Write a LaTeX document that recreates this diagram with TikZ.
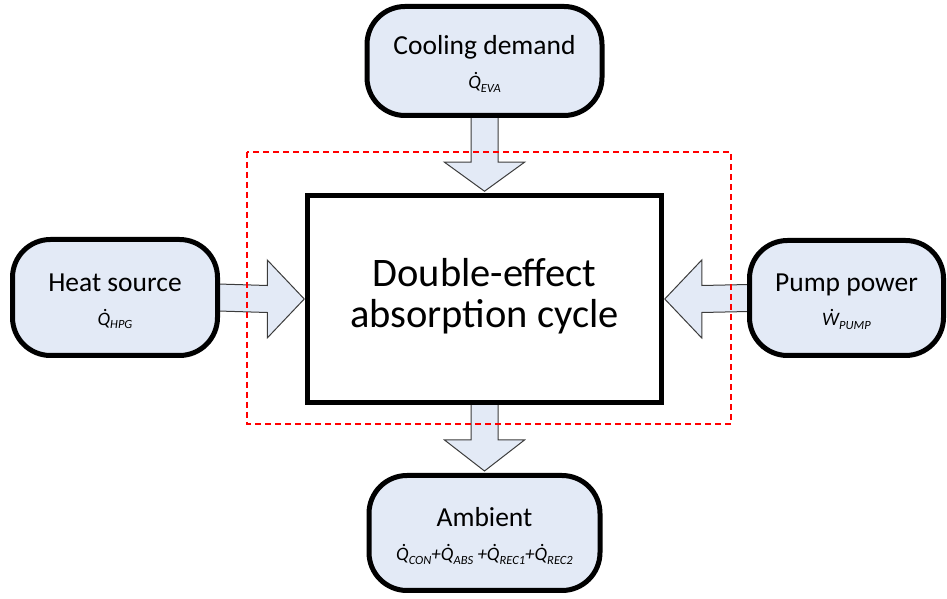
\documentclass[tikz,border=0pt]{standalone}
\usepackage{fontspec}
\setmainfont{Carlito}
\usetikzlibrary{calc,backgrounds}
\definecolor{boxfill}{RGB}{227,234,246}
\definecolor{arrowline}{RGB}{60,60,60}
\newcommand\mysub[1]{\raisebox{-3.2pt}{\fontsize{12.5}{14}\selectfont\itshape #1}}
\newcommand\frm{\fontsize{19}{21}\selectfont\itshape}
\newcommand\myqdot{\accent"02D9 Q}
\newcommand\mywdot{\accent"02D9 W}
\tikzset{
  roundbox/.style={draw=black, line width=5pt, fill=boxfill, rounded corners=38pt, inner sep=0pt},
  mainbox/.style={draw=black, line width=4.5pt, fill=white, inner sep=0pt, minimum width=354pt, minimum height=207pt},
  lbl/.style={anchor=base, inner sep=0pt, font=\fontsize{27.5}{30}\selectfont},
  mainlbl/.style={anchor=base, inner sep=0pt, font=\fontsize{40.5}{44}\selectfont},
  frmlbl/.style={anchor=base, inner sep=0pt, font=\frm},
  fatarrow/.style={draw=arrowline, line width=1pt, fill=boxfill, line join=miter},
  boundary/.style={draw=red, line width=2.6pt, dash pattern=on 6pt off 4pt}
}
\begin{document}
\begin{tikzpicture}[x=1pt,y=1pt]
\useasboundingbox (0,0) rectangle (947,599);
% boxes
\node[mainbox] (main) at (484.5,300) {};
\node[roundbox, minimum width=235pt, minimum height=109pt] (top) at (484.5,538) {};
\node[roundbox, minimum width=205pt, minimum height=116pt] (left) at (115,301.5) {};
\node[roundbox, minimum width=194pt, minimum height=115pt] (right) at (846.5,301) {};
\node[roundbox, minimum width=231pt, minimum height=115pt] (bottom) at (484.5,66) {};
% texts
\node[mainlbl] (mt1) at ($(main.center)+(0,12)$) {Double-effect};
\node[mainlbl] (mt2) at ($(main.center)+(0,-29)$) {absorption cycle};
\node[lbl] (tt) at ($(top.center)+(0,6)$) {Cooling demand};
\node[frmlbl] (tf) at ($(top.center)+(0,-28)$) {\myqdot\mysub{EVA}};
\node[lbl] (lt) at ($(left.center)+(0,6)$) {Heat source};
\node[frmlbl] (lf) at ($(left.center)+(0,-28)$) {\myqdot\mysub{HPG}};
\node[lbl] (rt) at ($(right.center)+(0,6)$) {Pump power};
\node[frmlbl] (rf) at ($(right.center)+(0,-28)$) {\mywdot\mysub{PUMP}};
\node[lbl] (bt) at ($(bottom.center)+(0,6)$) {Ambient};
\node[frmlbl] (bf) at ($(bottom.center)+(0,-28)$) {\myqdot\mysub{CON}+\myqdot\mysub{ABS} +\myqdot\mysub{REC1}+\myqdot\mysub{REC2}};
% arrows (behind the boxes)
\begin{scope}[on background layer]
\draw[fatarrow] ($(top.south)+(-13.5,2)$) -- ($(main.north)+(-13.5,31)$) -- ($(main.north)+(-40,31)$)
  -- ($(main.north)+(0,2)$) -- ($(main.north)+(40,31)$) -- ($(main.north)+(13.5,31)$) -- ($(top.south)+(13.5,2)$);
\draw[fatarrow] ($(main.south)+(-13.5,0)$) -- ($(bottom.north)+(-13.5,33)$) -- ($(bottom.north)+(-40,33)$)
  -- ($(bottom.north)+(0,2)$) -- ($(bottom.north)+(40,33)$) -- ($(bottom.north)+(13.5,33)$) -- ($(main.south)+(13.5,0)$);
\draw[fatarrow] ($(left.east)+(-2,13.5)$) -- ($(main.west)+(-38,13.5)$) -- ($(main.west)+(-38,39)$)
  -- ($(main.west)+(-1,0)$) -- ($(main.west)+(-38,-39)$) -- ($(main.west)+(-38,-13.5)$) -- ($(left.east)+(-2,-13.5)$);
\draw[fatarrow] ($(right.west)+(2,13.5)$) -- ($(main.east)+(38,13.5)$) -- ($(main.east)+(38,39)$)
  -- ($(main.east)+(1,0)$) -- ($(main.east)+(38,-39)$) -- ($(main.east)+(38,-13.5)$) -- ($(right.west)+(2,-13.5)$);
\end{scope}
% system boundary
\draw[boundary] (247,447) rectangle (731,175);
\end{tikzpicture}
\end{document}
